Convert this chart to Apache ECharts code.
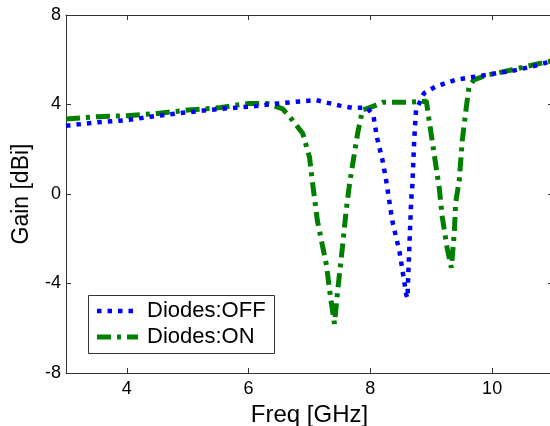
<!DOCTYPE html>
<html>
<head>
<meta charset="utf-8">
<script src="https://cdn.jsdelivr.net/npm/echarts@6/dist/echarts.min.js"></script>
<style>
  html, body { margin: 0; padding: 0; background: #ffffff; }
  #chart { width: 550px; height: 426px; }
</style>
</head>
<body>
<div id="chart"></div>
<script>
// values
var offFreq = [3.0, 3.5, 4.0, 4.5, 5.0, 5.5, 6.0, 6.5, 7.1, 7.5, 7.7, 7.95, 8.05, 8.11, 8.2, 8.26, 8.36, 8.48, 8.59, 8.61, 8.62, 8.64, 8.67, 8.69, 8.72, 8.75, 8.88, 9.07, 9.4, 9.62, 10.07, 10.33, 10.66, 11.0];
var offGain = [3.05, 3.2, 3.3, 3.5, 3.65, 3.8, 3.9, 4.05, 4.2, 3.95, 3.85, 3.85, 3.5, 2.5, 1.5, 0.6, -1.2, -2.6, -4.5, -4.65, -3.8, -2.4, -0.3, 0.4, 2.4, 3.75, 4.5, 4.8, 5.1, 5.2, 5.4, 5.5, 5.7, 5.95];

var onFreq = [3.0, 3.5, 4.0, 4.5, 5.0, 5.5, 6.0, 6.3, 6.56, 6.72, 6.89, 7.0, 7.05, 7.13, 7.28, 7.33, 7.41, 7.46, 7.54, 7.6, 7.66, 7.79, 7.87, 8.03, 8.2, 8.6, 8.92, 8.97, 9.02, 9.08, 9.13, 9.18, 9.26, 9.33, 9.38, 9.4, 9.46, 9.51, 9.57, 9.62, 9.7, 9.9, 10.33, 10.88, 11.0];
var onGain = [3.35, 3.45, 3.5, 3.6, 3.75, 3.85, 4.05, 4.05, 3.8, 3.3, 2.7, 1.65, 0.5, -1.2, -3.2, -4.3, -5.8, -4.4, -2.4, -0.8, 0.5, 2.7, 3.75, 3.9, 4.1, 4.1, 4.15, 3.2, 2.3, 1.2, 0.3, -1.0, -2.4, -3.3, -1.7, -0.4, 0.6, 2.4, 3.75, 4.8, 5.1, 5.3, 5.55, 5.9, 5.95];

var xTicks = [4, 6, 8, 10];
var seriesNames = ['Diodes:OFF', 'Diodes:ON'];

function pairs(xs, ys) {
  var out = [];
  for (var i = 0; i < xs.length; i++) {
    out.push([xs[i], ys[i]]);
  }
  return out;
}

var font = 'Liberation Sans, Arial, sans-serif';
var axisColor = '#333333';
var blueStyle = { color: '#0000ff', width: 4.5, type: [4.5, 6] };
var greenStyle = { color: '#007f00', width: 5, type: [14, 6, 4, 6] };

var chart = echarts.init(document.getElementById('chart'), null, { renderer: 'canvas' });

var baseX = {
  type: 'value', min: 3, max: 11, interval: 1,
  axisLine: { show: true, onZero: false, lineStyle: { color: axisColor, width: 1 } },
  axisTick: { show: true, inside: true, length: 5, lineStyle: { color: axisColor },
    customValues: xTicks },
  splitLine: { show: false }
};
var baseY = {
  type: 'value', min: -8, max: 8, interval: 4,
  axisLine: { show: true, onZero: false, lineStyle: { color: axisColor, width: 1 } },
  axisTick: { show: true, inside: true, length: 5, lineStyle: { color: axisColor } },
  splitLine: { show: false }
};

// legend box drawn by hand so the sample lines keep the dot / dash-dot pattern
function legendBox() {
  var x0 = 88, y0 = 295, w = 186, h = 58;
  var rows = [y0 + 16, y0 + 42];
  var styles = [blueStyle, greenStyle];
  var els = [{
    type: 'rect', shape: { x: x0 + 0.5, y: y0 + 0.5, width: w, height: h },
    style: { fill: '#ffffff', stroke: axisColor, lineWidth: 1 }, z: 10
  }];
  for (var i = 0; i < seriesNames.length; i++) {
    els.push({
      type: 'line', shape: { x1: x0 + 9, y1: rows[i], x2: x0 + 50, y2: rows[i] },
      style: { stroke: styles[i].color, lineWidth: styles[i].width, lineDash: styles[i].type },
      z: 11
    });
    els.push({
      type: 'text', x: x0 + 59, y: rows[i],
      style: { text: seriesNames[i], fontFamily: font, fontSize: 22, fill: '#000000',
        verticalAlign: 'middle', align: 'left' },
      z: 11
    });
  }
  return els;
}

chart.setOption({
  animation: false,
  backgroundColor: '#ffffff',
  grid: { left: 66, top: 15, width: 487, height: 358, outerBoundsMode: 'none' },
  xAxis: [
    Object.assign({}, baseX, {
      position: 'bottom',
      name: 'Freq [GHz]', nameLocation: 'middle', nameGap: 30,
      nameTextStyle: { fontFamily: font, fontSize: 24, color: '#000000' },
      axisLabel: { show: true, fontFamily: font, fontSize: 18, color: '#000000', margin: 7,
        customValues: xTicks }
    }),
    Object.assign({}, baseX, { position: 'top', axisLabel: { show: false } })
  ],
  yAxis: [
    Object.assign({}, baseY, {
      position: 'left',
      name: 'Gain [dBi]', nameLocation: 'middle', nameGap: 33,
      nameTextStyle: { fontFamily: font, fontSize: 23, color: '#000000' },
      axisLabel: { show: true, fontFamily: font, fontSize: 18, color: '#000000', margin: 5 }
    }),
    Object.assign({}, baseY, { position: 'right', axisLabel: { show: false } })
  ],
  graphic: legendBox(),
  series: [{
    name: seriesNames[0],
    type: 'line',
    data: pairs(offFreq, offGain),
    symbol: 'none',
    lineStyle: blueStyle,
    itemStyle: { color: blueStyle.color },
    z: 3
  }, {
    name: seriesNames[1],
    type: 'line',
    data: pairs(onFreq, onGain),
    symbol: 'none',
    lineStyle: greenStyle,
    itemStyle: { color: greenStyle.color },
    z: 2
  }]
});
</script>
</body>
</html>
